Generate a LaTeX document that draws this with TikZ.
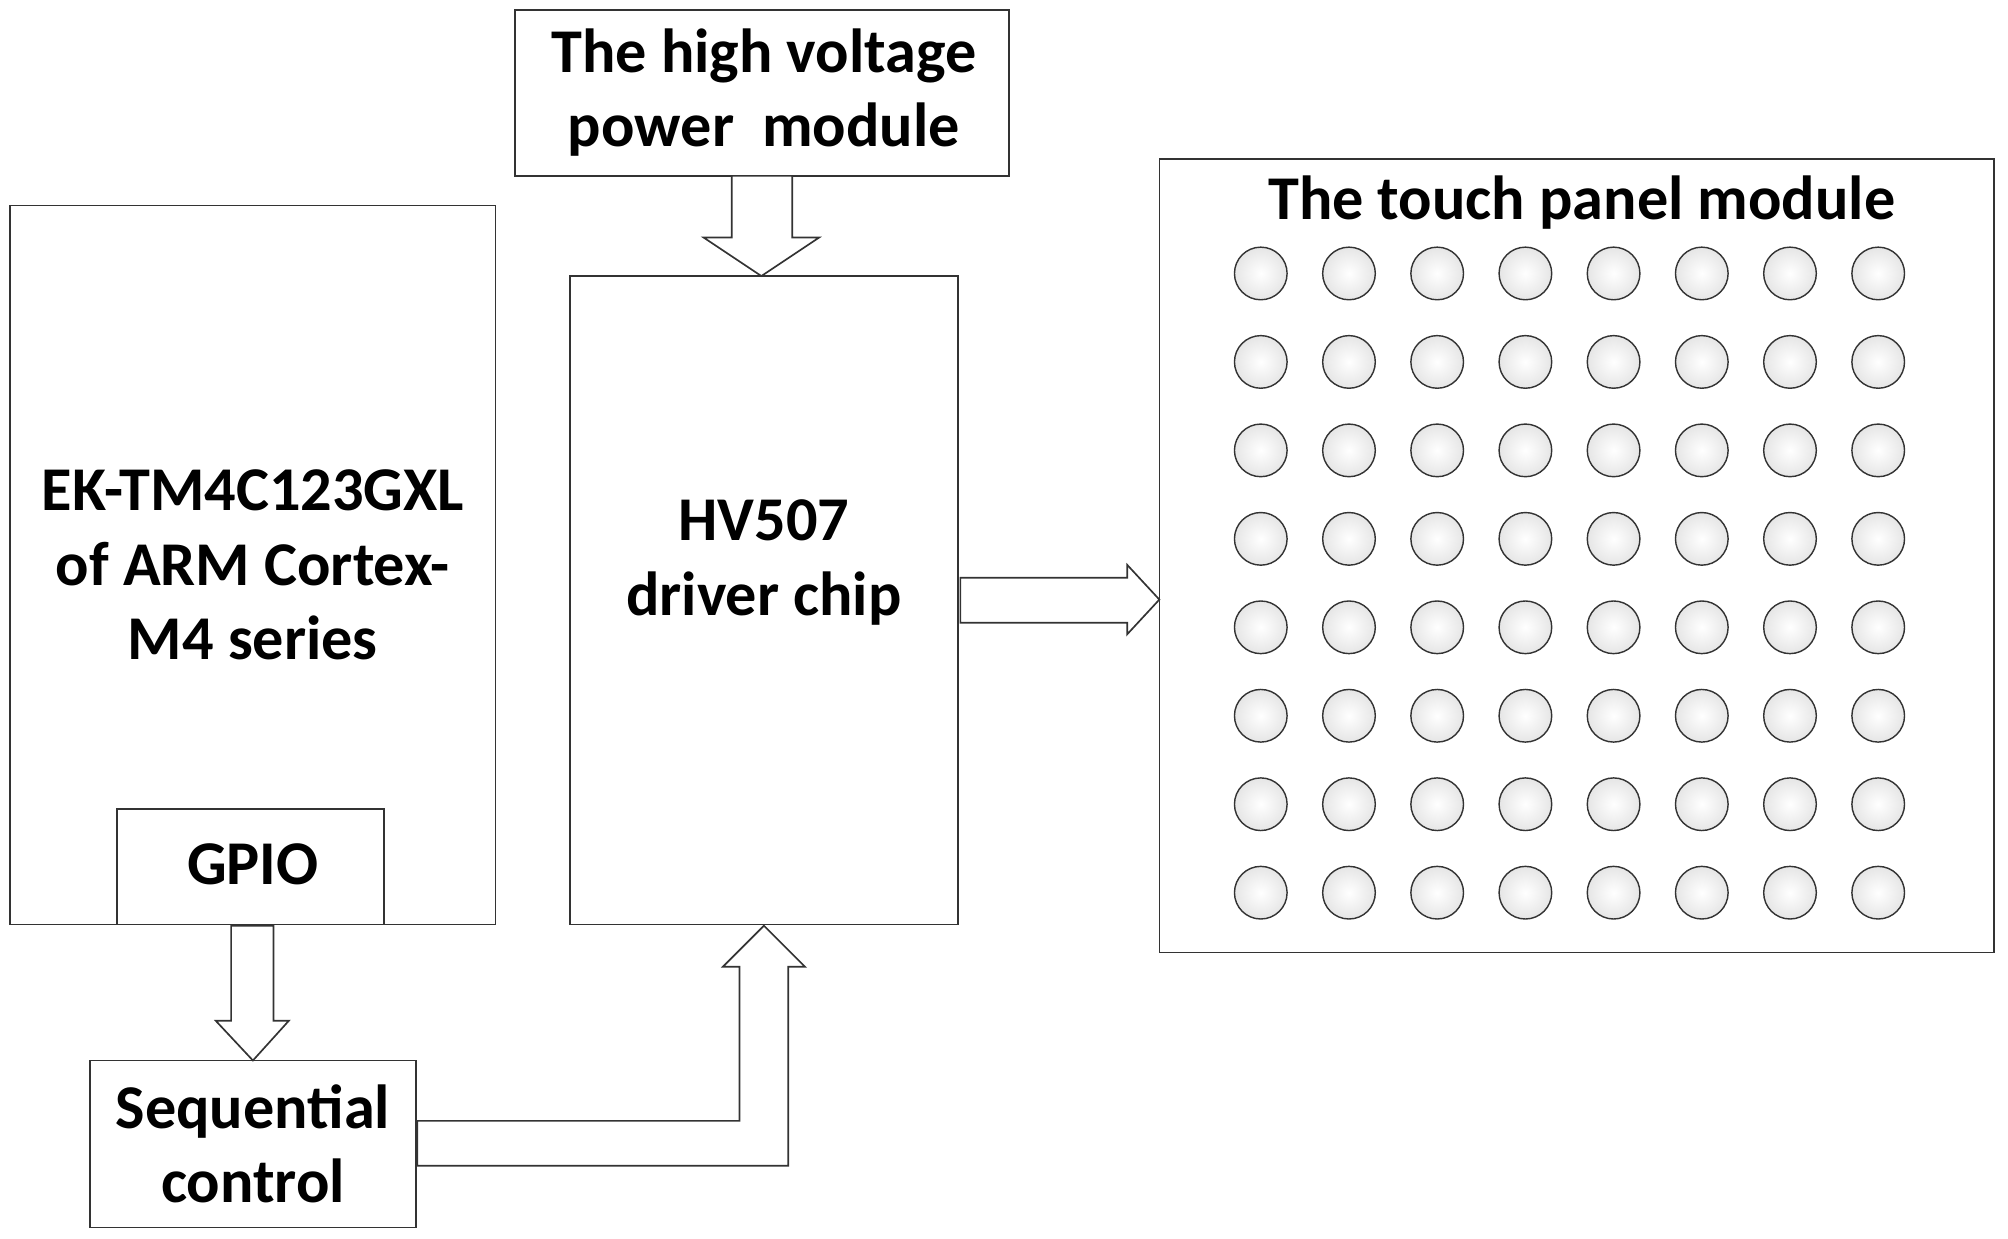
\documentclass[tikz,border=0pt]{standalone}
\usepackage{fontspec}
\setmainfont{Carlito}
\begin{document}
\begin{tikzpicture}[x=1pt,y=-1pt,
  box/.style={draw=black!80,line width=1.3pt,fill=white},
  lbl/.style={font=\fontsize{48.5}{58}\selectfont\bfseries,align=center},
  harrow/.style={draw=black!80,line width=1.3pt,fill=white,line join=miter},
  dot/.style={circle,draw=black!80,line width=1.1pt,minimum size=41pt,inner sep=0pt,shading=radial,inner color=white,outer color=black!10}]
\useasboundingbox (0,0) rectangle (1564,965);
% boxes
\draw[box] (8,160) rectangle (386,720);
\node[lbl] (arm) at (197,440) {EK-TM4C123GXL\\of ARM Cortex-\\M4 series};
\draw[box] (91,630) rectangle (299,720);
\node[lbl] (gpio) at (197,673) {GPIO};
\draw[box] (70,826) rectangle (324,956);
\node[lbl] (seq) at (197,891) {Sequential\\control};
\draw[box] (401,8) rectangle (786,137);
\node[lbl] (hvp) at (595,72) {The high voltage\\power\ \ module};
\draw[box] (444,215) rectangle (746,720);
\node[lbl] (hv) at (595,438) {HV507\\driver chip};
\draw[box] (903,124) rectangle (1553,742);
\node[lbl] (tp) at (1232,158) {The touch panel module};
\foreach \i in {0,...,7}\foreach \j in {0,...,7}
  \node[dot] (c\i\j) at (982+68.7*\i,213+68.9*\j) {};
% arrows
\draw[harrow] (570,137)--(617,137)--(617,185)--(638,185)--(593,215)--(548,185)--(570,185)--cycle;
\draw[harrow] (180,721)--(213,721)--(213,795)--(225,795)--(197,826)--(168,795)--(180,795)--cycle;
\draw[harrow] (748,450)--(878,450)--(878,440)--(903,467)--(878,494)--(878,485)--(748,485)--cycle;
\draw[harrow] (325,908)--(614,908)--(614,753)--(627,753)--(595,721)--(563,753)--(576,753)--(576,873)--(325,873)--cycle;
\end{tikzpicture}
\end{document}
